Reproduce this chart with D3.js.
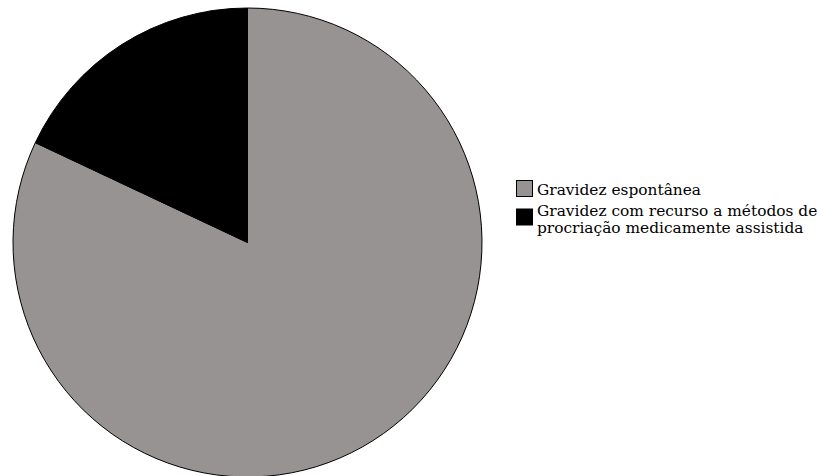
<!DOCTYPE html>
<html>
<head>
<meta charset="utf-8">
<script src="https://cdn.jsdelivr.net/npm/d3@7"></script>
<style>
  html, body { margin: 0; padding: 0; background: #ffffff; }
  svg { display: block; }
</style>
</head>
<body>
<svg id="chart" width="817" height="476"></svg>
<script>
// Share of pregnancies by type of conception (%)
const categories = ["Gravidez espontânea", "Gravidez com recurso a métodos de procriação medicamente assistida"];
const legendLines = [["Gravidez espontânea"], ["Gravidez com recurso a métodos de", "procriação medicamente assistida"]];
const values = [82, 18];
const colors = ["#989393", "#000000"];

const svg = d3.select("#chart");
const cx = 247.5, cy = 242.5, r = 234.5;

const pie = d3.pie().sort(null).value(d => d)(values);
const arc = d3.arc().innerRadius(0).outerRadius(r);

const color = d3.scaleOrdinal().domain(categories).range(colors);

svg.append("g")
  .attr("transform", `translate(${cx},${cy})`)
  .selectAll("path")
  .data(pie)
  .join("path")
  .attr("d", arc)
  .attr("fill", (d, i) => color(categories[i]))
  .attr("stroke", "#000")
  .attr("stroke-width", 1);

// Legend
const legend = svg.append("g").attr("transform", "translate(516,180)");
const rowY = [0, 28.5];
const item = legend.selectAll("g")
  .data(categories)
  .join("g")
  .attr("transform", (d, i) => `translate(0,${rowY[i]})`);

item.append("rect")
  .attr("x", 0.5).attr("y", 0.5)
  .attr("width", 16).attr("height", 16)
  .attr("fill", d => color(d))
  .attr("stroke", "#000")
  .attr("stroke-width", 1);

item.append("text")
  .attr("font-family", "'DejaVu Serif', serif")
  .attr("font-size", 15.4)
  .attr("fill", "#000")
  .selectAll("tspan")
  .data((d, i) => legendLines[i].map((t, j) => ({ t, j, i })))
  .join("tspan")
  .attr("x", 21)
  .attr("y", d => (d.i === 0 ? 15 : 7.5) + d.j * 16.5)
  .text(d => d.t);
</script>
</body>
</html>
